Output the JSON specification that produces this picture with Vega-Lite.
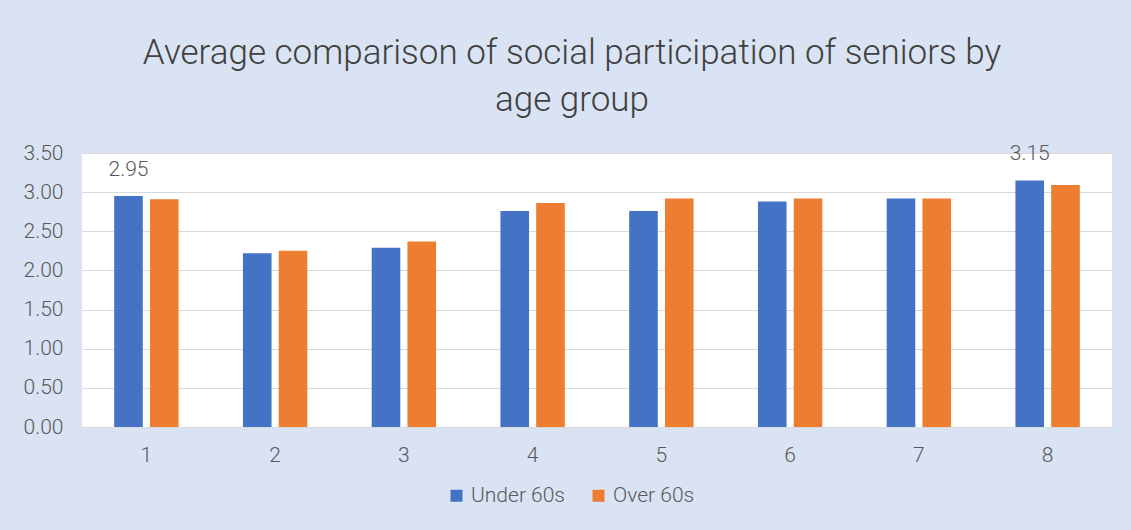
{
  "$schema": "https://vega.github.io/schema/vega-lite/v6.json",
  "width": 1030,
  "height": 274,
  "autosize": {"type": "none"},
  "padding": {"left": 82, "top": 153, "right": 19, "bottom": 103},
  "background": "#dae3f3",
  "config": {
    "view": {"fill": "white", "stroke": null},
    "font": "Roboto"
  },
  "title": {
    "text": ["Average comparison of social participation of seniors by", "age group"],
    "fontSize": 35,
    "fontWeight": 300,
    "color": "#404040",
    "lineHeight": 47,
    "anchor": "middle",
    "dx": -25,
    "offset": 24
  },
  "data": {
    "values": [
      {"group": "1", "series": "Under 60s", "value": 2.95},
      {"group": "1", "series": "Over 60s", "value": 2.91},
      {"group": "2", "series": "Under 60s", "value": 2.22},
      {"group": "2", "series": "Over 60s", "value": 2.25},
      {"group": "3", "series": "Under 60s", "value": 2.29},
      {"group": "3", "series": "Over 60s", "value": 2.37},
      {"group": "4", "series": "Under 60s", "value": 2.76},
      {"group": "4", "series": "Over 60s", "value": 2.86},
      {"group": "5", "series": "Under 60s", "value": 2.76},
      {"group": "5", "series": "Over 60s", "value": 2.92},
      {"group": "6", "series": "Under 60s", "value": 2.88},
      {"group": "6", "series": "Over 60s", "value": 2.92},
      {"group": "7", "series": "Under 60s", "value": 2.92},
      {"group": "7", "series": "Over 60s", "value": 2.92},
      {"group": "8", "series": "Under 60s", "value": 3.15},
      {"group": "8", "series": "Over 60s", "value": 3.09}
    ]
  },
  "encoding": {
    "x": {
      "field": "group",
      "type": "nominal",
      "scale": {"paddingInner": 0.5, "paddingOuter": 0.25},
      "axis": {
        "title": null,
        "labelAngle": 0,
        "labelFontSize": 21,
        "labelFontWeight": 300,
        "labelColor": "#595959",
        "labelPadding": 17,
        "ticks": false,
        "domainColor": "#d9d9d9",
        "grid": false
      }
    },
    "xOffset": {
      "field": "series",
      "type": "nominal",
      "sort": ["Under 60s", "Over 60s"],
      "scale": {"paddingInner": 0.2, "paddingOuter": 0}
    },
    "y": {
      "field": "value",
      "type": "quantitative",
      "scale": {"domain": [0, 3.5]},
      "axis": {
        "title": null,
        "values": [0, 0.5, 1, 1.5, 2, 2.5, 3, 3.5],
        "format": ".2f",
        "labelFontSize": 21,
        "labelFontWeight": 300,
        "labelColor": "#595959",
        "labelPadding": 19,
        "ticks": false,
        "domain": false,
        "gridColor": "#d9d9d9"
      }
    }
  },
  "layer": [
    {
      "mark": {"type": "bar"},
      "encoding": {
        "color": {
          "field": "series",
          "type": "nominal",
          "sort": ["Under 60s", "Over 60s"],
          "scale": {"domain": ["Under 60s", "Over 60s"], "range": ["#4472c4", "#ed7d31"]},
          "legend": {
            "title": null,
            "orient": "none",
            "legendX": 364,
            "legendY": 332,
            "direction": "horizontal",
            "symbolType": "square",
            "symbolSize": 144,
            "symbolStrokeWidth": 0,
            "labelFontSize": 21,
            "labelFontWeight": 300,
            "labelColor": "#595959",
            "labelOffset": 4,
            "columnPadding": 22
          }
        }
      }
    },
    {
      "transform": [
        {"filter": "datum.series == 'Under 60s' && (datum.group == '1' || datum.group == '8')"}
      ],
      "mark": {"type": "text", "baseline": "alphabetic", "dy": -20, "fontSize": 21, "fontWeight": 300, "color": "#595959"},
      "encoding": {
        "text": {"field": "value", "type": "quantitative", "format": ".2f"}
      }
    }
  ]
}
